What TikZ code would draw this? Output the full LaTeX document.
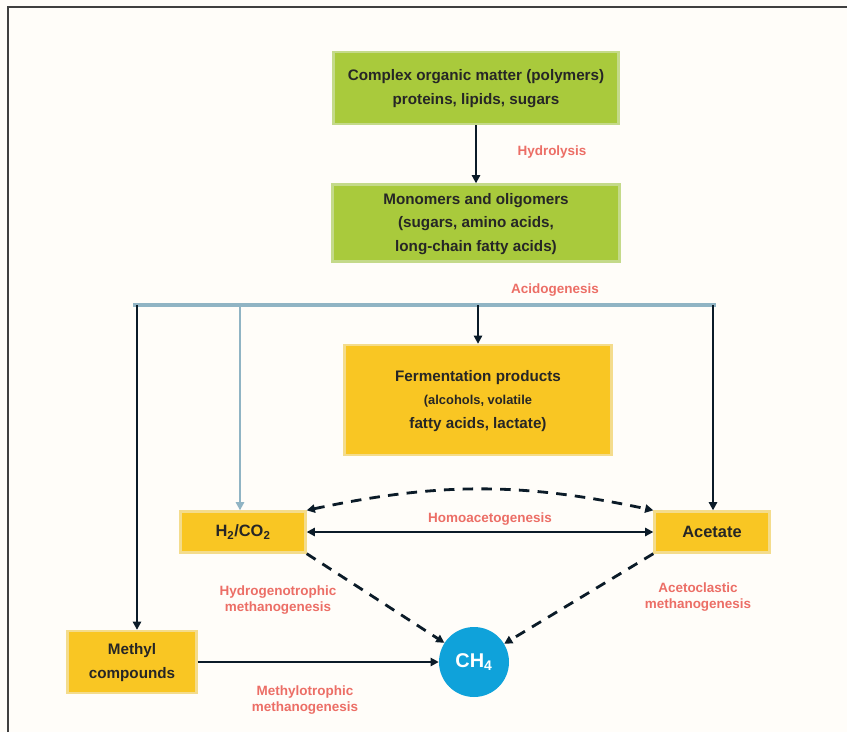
\documentclass[tikz,border=0pt]{standalone}
\usepackage{fontspec}
\setmainfont{Liberation Sans}
\usetikzlibrary{arrows.meta}
\definecolor{fundo}{HTML}{FFFDF9}
\definecolor{verde}{HTML}{A9CA3C}
\definecolor{verdeborda}{HTML}{C4DA8A}
\definecolor{ouro}{HTML}{F9C623}
\definecolor{ouroborda}{HTML}{F4DC8C}
\definecolor{azul}{HTML}{0FA2DA}
\definecolor{barra}{HTML}{90B4C4}
\definecolor{linha}{HTML}{0B1B28}
\definecolor{rotulo}{HTML}{EC6E66}
\newcommand{\duas}[2]{\begin{tabular}{c}
  #1 \\
  #2
\end{tabular}}
\newcommand{\tres}[3]{\begin{tabular}{c}
  #1 \\
  #2 \\
  #3
\end{tabular}}
\tikzset{
  caixaverde/.style={fill=verde, draw=verdeborda, line width=2pt, align=center,
    font=\fontsize{13}{20}\selectfont\bfseries, text=black!85, inner sep=2pt},
  caixaouro/.style={fill=ouro, draw=ouroborda, line width=2pt, align=center,
    font=\fontsize{13}{20}\selectfont\bfseries, text=black!85, inner sep=2pt},
  etapa/.style={text=rotulo, font=\fontsize{11.5}{14}\selectfont\bfseries, align=center},
  fluxo/.style={draw=linha, line width=2.4pt, -{Triangle[length=7pt,width=7pt]}},
  duplo/.style={draw=linha, line width=2.4pt, {Triangle[length=7pt,width=7pt]}-{Triangle[length=7pt,width=7pt]}},
  tracejado/.style={duplo, dash pattern=on 9pt off 7pt},
}

\begin{document}
\begin{tikzpicture}[x=0.03cm, y=-0.03cm]
    \fill[fundo] (0,0) rectangle (847,732);
    \useasboundingbox (0,0) rectangle (847,732);
    \draw[black!75, line width=1.5pt] (8,732) -- (8,7) -- (847,7);

    \coordinate (a) at (476,88);
    \coordinate (b) at (476,223);
    \coordinate (c) at (478,400);
    \coordinate (d) at (243,532);
    \coordinate (e) at (712,532);
    \coordinate (f) at (132,662);
    \coordinate (g) at (474,662);

    \node[caixaverde, minimum width=8.55cm, minimum height=2.16cm] (polimeros) at (a)
      {\duas{Complex organic matter (polymers)}{proteins, lipids, sugars}};
    \node[caixaverde, minimum width=8.6cm, minimum height=2.31cm] (monomeros) at (b)
      {\tres{Monomers and oligomers}{(sugars, amino acids,}{long-chain fatty acids)}};
    \node[caixaouro, minimum width=8cm, minimum height=3.3cm] (produtos) at (c)
      {\tres{Fermentation products}{\fontsize{11}{20}\selectfont (alcohols, volatile}{fatty acids, lactate)}};
    \node[caixaouro, minimum width=3.75cm, minimum height=1.23cm, font=\fontsize{14}{20}\selectfont\bfseries]
      (hidrogenio) at (d) {H\textsubscript{2}/CO\textsubscript{2}};
    \node[caixaouro, minimum width=3.45cm, minimum height=1.23cm, font=\fontsize{14}{20}\selectfont\bfseries]
      (acetato) at (e) {Acetate};
    \node[caixaouro, minimum width=3.87cm, minimum height=1.86cm] (metil) at (f)
      {\duas{Methyl}{compounds}};
    \node[circle, fill=azul, minimum size=2.1cm, text=white,
      font=\fontsize{17}{20}\selectfont\bfseries] (metano) at (g) {CH\textsubscript{4}};

    \node[etapa] (hidrolise) at (552,152) {Hydrolysis};
    \node[etapa] (acidogenese) at (555,290) {Acidogenesis};
    \node[etapa] (homo) at (490,519) {Homoacetogenesis};
    \node[etapa] (hidrotrofica) at (278,600) {\duas{Hydrogenotrophic}{methanogenesis}};
    \node[etapa] (acetoclastica) at (698,597) {\duas{Acetoclastic}{methanogenesis}};
    \node[etapa] (metilotrofica) at (305,700) {\duas{Methylotrophic}{methanogenesis}};

    \draw[fluxo] (polimeros) -- (monomeros);

    \coordinate (b0) at (478,305);
    \coordinate (b1) at (137,305);
    \coordinate (b2) at (240,305);
    \coordinate (b3) at (713,305);
    \draw[barra, line width=4pt] (133,305) -- (716,305);
    \draw[fluxo] (b0) -- (produtos);
    \draw[fluxo] (b1) -- (b1 |- metil.north);
    \draw[fluxo, draw=barra] (b2) -- (b2 |- hidrogenio.north);
    \draw[fluxo] (b3) -- (b3 |- acetato.north);

    \draw[tracejado] (hidrogenio.north east) to[bend left=12] (acetato.north west);
    \draw[duplo] (hidrogenio) -- (acetato);
    \draw[fluxo, dash pattern=on 9pt off 7pt] (hidrogenio.south east) -- (metano);
    \draw[fluxo, dash pattern=on 9pt off 7pt] (acetato.south west) -- (metano);
    \draw[fluxo] (metil) -- (metano);
  \end{tikzpicture}
\end{document}
